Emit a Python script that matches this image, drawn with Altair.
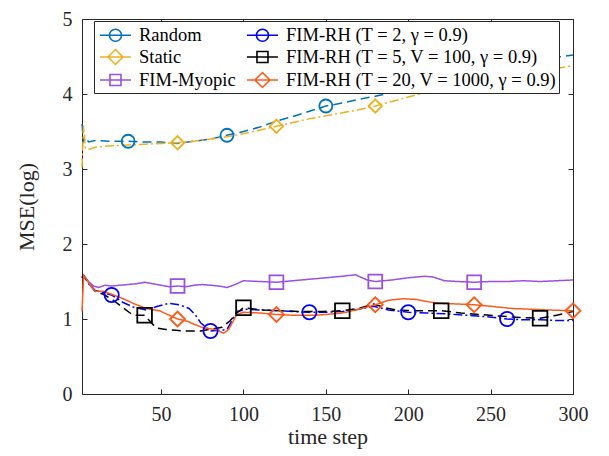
import altair as alt
import pandas as pd

# ---------------- data ----------------
names = [
    "Random",
    "Static",
    "FIM-Myopic",
    "FIM-RH (T = 2, γ = 0.9)",
    "FIM-RH (T = 5, V = 100, γ = 0.9)",
    "FIM-RH (T = 20, V = 1000, γ = 0.9)",
]

random_x = [2, 3, 4, 6, 10, 20, 30, 40, 50, 60, 70, 80, 90, 100, 110, 120, 130, 140, 150, 160,
            170, 180, 190, 200, 210, 220, 230, 240, 250, 260, 270, 280, 290, 300]
random_y = [3.60, 3.35, 3.42, 3.36, 3.38, 3.37, 3.37, 3.36, 3.36, 3.34, 3.37, 3.40, 3.45, 3.50,
            3.56, 3.64, 3.70, 3.77, 3.84, 3.88, 3.93, 3.97, 4.02, 4.08, 4.14, 4.19, 4.24, 4.29,
            4.34, 4.38, 4.42, 4.46, 4.49, 4.52]

static_x = [2, 3, 4, 6, 10, 20, 30, 40, 50, 60, 70, 80, 90, 100, 110, 120, 130, 140, 150, 160,
            170, 180, 190, 200, 210, 220, 230, 240, 250, 260, 270, 280, 290, 300]
static_y = [3.02, 3.58, 3.28, 3.26, 3.29, 3.31, 3.32, 3.33, 3.34, 3.35, 3.37, 3.40, 3.43, 3.47,
            3.52, 3.57, 3.62, 3.67, 3.71, 3.75, 3.79, 3.84, 3.90, 3.96, 4.02, 4.07, 4.12, 4.16,
            4.20, 4.24, 4.27, 4.31, 4.34, 4.38]

myopic_x = [2, 3, 6, 9, 12, 16, 20, 25, 30, 35, 40, 45, 50, 55, 60, 65, 70, 75, 80, 85, 90, 95,
            100, 110, 120, 130, 140, 150, 160, 168, 175, 180, 190, 200, 210, 215, 222, 230, 240,
            250, 260, 270, 280, 290, 300]
myopic_y = [1.55, 1.58, 1.50, 1.44, 1.42, 1.45, 1.44, 1.45, 1.46, 1.47, 1.49, 1.47, 1.45, 1.43,
            1.44, 1.43, 1.45, 1.46, 1.45, 1.44, 1.42, 1.46, 1.51, 1.50, 1.49, 1.51, 1.53, 1.55,
            1.57, 1.59, 1.52, 1.50, 1.52, 1.55, 1.57, 1.56, 1.51, 1.50, 1.49, 1.50, 1.50, 1.51,
            1.50, 1.51, 1.52]

t2_x = [2, 3, 6, 10, 15, 20, 27, 33, 41, 48, 55, 61, 67, 71, 74, 80, 85, 90, 96, 102, 110, 120,
        130, 140, 150, 160, 170, 179, 188, 200, 211, 222, 235, 248, 260, 270, 280, 290, 300]
t2_y = [1.55, 1.58, 1.47, 1.38, 1.35, 1.32, 1.22, 1.16, 1.12, 1.17, 1.21, 1.19, 1.14, 1.05, 0.95,
        0.84, 0.85, 0.86, 1.10, 1.13, 1.12, 1.11, 1.10, 1.09, 1.09, 1.10, 1.13, 1.17, 1.12, 1.09,
        1.08, 1.07, 1.05, 1.03, 1.00, 0.99, 0.99, 0.98, 0.98]

t5_x = [2, 3, 6, 10, 15, 21, 27, 33, 40, 47, 53, 59, 64, 69, 74, 79, 87, 92, 96, 100, 104, 112,
        122, 135, 148, 160, 170, 179, 186, 193, 205, 220, 232, 243, 255, 268, 280, 290, 300]
t5_y = [1.55, 1.58, 1.48, 1.37, 1.33, 1.25, 1.15, 1.05, 1.05, 0.88, 0.86, 0.85, 0.84, 0.84, 0.84,
        0.86, 0.89, 0.98, 1.08, 1.15, 1.14, 1.12, 1.11, 1.10, 1.10, 1.11, 1.14, 1.20, 1.15, 1.12,
        1.11, 1.11, 1.08, 1.06, 1.04, 1.02, 1.01, 1.05, 1.10]

t20_x = [2, 3, 5, 8, 10, 15, 20, 27, 34, 41, 49, 55, 60, 66, 70, 76, 83, 88, 91, 96, 100, 110,
         120, 130, 142, 150, 160, 170, 180, 188, 197, 205, 212, 219, 230, 240, 250, 263, 275,
         285, 300]
t20_y = [1.10, 1.58, 1.52, 1.42, 1.37, 1.37, 1.33, 1.27, 1.20, 1.14, 1.11, 1.05, 1.00, 0.97, 0.93,
         0.88, 0.86, 0.81, 0.86, 1.06, 1.09, 1.08, 1.06, 1.05, 1.05, 1.06, 1.08, 1.13, 1.19, 1.25,
         1.27, 1.26, 1.23, 1.21, 1.20, 1.19, 1.17, 1.14, 1.13, 1.12, 1.11]

marker_x = [
    [30, 90, 150, 210, 270],
    [60, 120, 180, 240],
    [60, 120, 180, 240],
    [20, 80, 140, 200, 260],
    [40, 100, 160, 220, 280],
    [60, 120, 180, 240, 300],
]

series_x = [random_x, static_x, myopic_x, t2_x, t5_x, t20_x]
series_y = [random_y, static_y, myopic_y, t2_y, t5_y, t20_y]

colors = ["#0072BD", "#EDB120", "#9B4FE3", "#0000FF", "#000000", "#FF5A1A"]
dashes = [[9, 5], [9, 3, 2, 3], [1, 0], [9, 3, 2, 3], [9, 5], [1, 0]]
widths = [1.5, 1.5, 1.6, 1.5, 1.5, 2.0]
shapes = ["circle", "diamond", "square", "circle", "square", "diamond"]
sizes = [169, 225, 121, 169, 121, 225]

# legend symbols: line with the marker on it (unit = 11 px)
circle_path = "M-0.73,0L2.09,0M1.23,0A0.55,0.55,0,1,1,0.13,0A0.55,0.55,0,1,1,1.23,0"
diamond_path = "M-0.73,0L2.09,0M0.68,-0.68L1.36,0L0.68,0.68L0,0Z"
square_path = "M-0.73,0L2.09,0M0.18,-0.5L1.18,-0.5L1.18,0.5L0.18,0.5Z"
legend_paths = [circle_path, diamond_path, square_path, circle_path, square_path, diamond_path]

dom = names

rows = []
for n, xs, ys in zip(names, series_x, series_y):
    for xv, yv in zip(xs, ys):
        rows.append({"series": n, "x": xv, "y": yv})
df_lines = pd.DataFrame(rows)

mrows = []
for n, xs, ys, mx in zip(names, series_x, series_y, marker_x):
    lookup = dict(zip(xs, ys))
    for xv in mx:
        mrows.append({"series": n, "x": xv, "y": lookup[xv]})
df_markers = pd.DataFrame(mrows)

# ---------------- chart ----------------
FONT = "Liberation Serif"
AX = "#262626"
x_scale = alt.Scale(domain=[2, 300], nice=False, zero=False)
y_scale = alt.Scale(domain=[0, 5], nice=False)
xticks = [50, 100, 150, 200, 250, 300]
yticks = [0, 1, 2, 3, 4, 5]

x_axis = alt.Axis(values=xticks, title="time step", offset=-5, tickSize=5, domain=False,
                  grid=False, labelPadding=10, titlePadding=2, labelFontSize=20,
                  titleFontSize=22, labelFont=FONT, titleFont=FONT, labelColor=AX,
                  titleColor=AX, tickColor=AX, titleFontWeight="normal", labelFlush=False,
                  format="d")
y_axis = alt.Axis(values=yticks, title="MSE(log)", offset=-5, tickSize=5, domain=False,
                  grid=False, labelPadding=10, titlePadding=24, labelFontSize=20,
                  titleFontSize=22, labelFont=FONT, titleFont=FONT, labelColor=AX,
                  titleColor=AX, tickColor=AX, titleFontWeight="normal", labelFlush=False,
                  format="d")
x_top = alt.Axis(orient="top", values=xticks, labels=False, title=None, offset=-5, tickSize=5,
                 domain=False, grid=False, tickColor=AX)
y_right = alt.Axis(orient="right", values=yticks, labels=False, title=None, offset=-5,
                   tickSize=5, domain=False, grid=False, tickColor=AX)

lines = alt.Chart(df_lines).mark_line(clip=False).encode(
    x=alt.X("x:Q", scale=x_scale, axis=x_axis),
    y=alt.Y("y:Q", scale=y_scale, axis=y_axis),
    color=alt.Color("series:N", scale=alt.Scale(domain=dom, range=colors), legend=None),
    strokeDash=alt.StrokeDash("series:N", scale=alt.Scale(domain=dom, range=dashes), legend=None),
    strokeWidth=alt.StrokeWidth("series:N", scale=alt.Scale(domain=dom, range=widths), legend=None),
)

points = alt.Chart(df_markers).mark_point(filled=False, strokeWidth=1.8, opacity=1, clip=False).encode(
    x=alt.X("x:Q", scale=x_scale, axis=None),
    y=alt.Y("y:Q", scale=y_scale, axis=None),
    color=alt.Color("series:N", scale=alt.Scale(domain=dom, range=colors), legend=None),
    shape=alt.Shape("series:N", scale=alt.Scale(domain=dom, range=shapes), legend=None),
    size=alt.Size("series:N", scale=alt.Scale(domain=dom, range=sizes), legend=None),
)

leg = dict(orient="none", legendX=12, legendY=2, columns=2, title=None, fillColor="white",
           strokeColor=AX, padding=2, labelFont=FONT, labelFontSize=18.5, labelColor="#000000",
           labelLimit=0, labelOffset=19, columnPadding=7, rowPadding=0, symbolSize=484,
           symbolStrokeWidth=1.6, symbolFillColor="transparent")

legend_layer = alt.Chart(df_markers).transform_filter("false").mark_point(filled=False, opacity=1).encode(
    x=alt.X("x:Q", scale=x_scale, axis=x_top),
    y=alt.Y("y:Q", scale=y_scale, axis=y_right),
    color=alt.Color("series:N", scale=alt.Scale(domain=dom, range=colors), legend=alt.Legend(**leg)),
    shape=alt.Shape("series:N", scale=alt.Scale(domain=dom, range=legend_paths), legend=alt.Legend(**leg)),
)

chart = alt.layer(lines, points, legend_layer).resolve_scale(
    color="independent", shape="independent"
).resolve_axis(
    x="independent", y="independent"
).properties(
    width=491, height=375,
    autosize=alt.AutoSizeParams(type="none"),
    padding={"left": 74, "top": 11, "right": 26, "bottom": 60},
    background="white",
).configure_view(stroke=AX, strokeWidth=1)

chart.save("out.html", embed_options={"renderer": "svg", "actions": False})
